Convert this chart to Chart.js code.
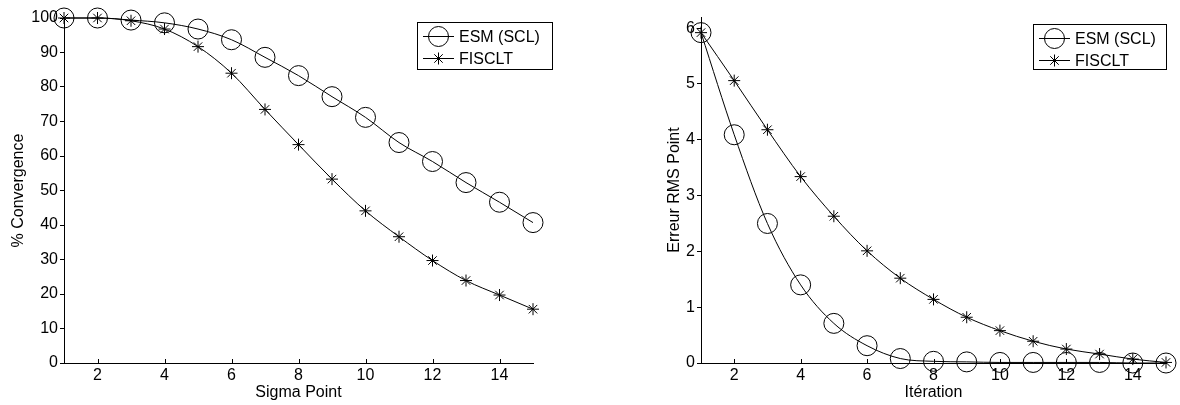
<!DOCTYPE html>
<html>
<head>
<meta charset="utf-8">
<script src="https://cdn.jsdelivr.net/npm/chart.js@4.4.0/dist/chart.umd.min.js"></script>
<style>
  html, body { margin: 0; padding: 0; background: #fff; }
  body { width: 1180px; height: 405px; position: relative; overflow: hidden; }
  canvas { position: absolute; top: 0; }
</style>
</head>
<body>
<canvas id="c1" width="590" height="405" style="left:0px"></canvas>
<canvas id="c2" width="543" height="405" style="left:637px"></canvas>
<script>
// ---------- DATA ----------
const sigmaPoints = [1, 2, 3, 4, 5, 6, 7, 8, 9, 10, 11, 12, 13, 14, 15];
const esmConvergence    = [100, 100, 99.4, 98.6, 96.8, 93.7, 88.6, 83.3, 77.2, 71.2, 63.9, 58.4, 52.3, 46.6, 40.7];
const fiscltConvergence = [100, 100, 99.2, 96.8, 91.7, 84.0, 73.5, 63.3, 53.3, 44.1, 36.6, 29.7, 23.9, 19.7, 15.6];

const iterations = [1, 2, 3, 4, 5, 6, 7, 8, 9, 10, 11, 12, 13, 14, 15];
const esmRms    = [5.92, 4.09, 2.50, 1.40, 0.71, 0.31, 0.08, 0.03, 0.02, 0.01, 0.01, 0.01, 0.01, 0.0, 0.0];
const fiscltRms = [5.92, 5.06, 4.18, 3.34, 2.63, 2.01, 1.52, 1.14, 0.82, 0.58, 0.39, 0.25, 0.16, 0.07, 0.01];

const xTickValues = [2, 4, 6, 8, 10, 12, 14];
const seriesNames = ['ESM (SCL)', 'FISCLT'];
const leftAxisTitles = { x: 'Sigma Point', y: '% Convergence' };
const rightAxisTitles = { x: 'Itération', y: 'Erreur RMS Point' };

// ---------- HELPERS ----------
const FONT = '"Liberation Sans", Arial, Helvetica, sans-serif';
const pts = (xs, ys) => xs.map((x, i) => ({ x: x, y: ys[i] }));

function drawMarker(ctx, style, x, y) {
  ctx.save();
  ctx.strokeStyle = '#000';
  ctx.lineWidth = 1;
  ctx.beginPath();
  if (style === 'circle') {
    ctx.arc(x, y, 10, 0, Math.PI * 2);
  } else {
    const r = 6;
    for (let k = 0; k < 4; k++) {
      const a = k * Math.PI / 4;
      ctx.moveTo(x - r * Math.cos(a), y - r * Math.sin(a));
      ctx.lineTo(x + r * Math.cos(a), y + r * Math.sin(a));
    }
  }
  ctx.stroke();
  ctx.restore();
}

const boxLegend = {
  id: 'boxLegend',
  afterDraw(chart, args, opts) {
    const ctx = chart.ctx;
    const ca = chart.chartArea;
    const w = opts.w, h = opts.h;
    const bx = ca.right + opts.dx - w;
    const by = ca.top + opts.dy;
    ctx.save();
    ctx.fillStyle = '#fff';
    ctx.fillRect(bx, by, w, h);
    ctx.strokeStyle = '#000';
    ctx.lineWidth = 1;
    ctx.strokeRect(Math.round(bx) + 0.5, Math.round(by) + 0.5, w, h);
    const styles = ['circle', 'star'];
    const rows = [by + 14.5, by + 36.5];
    ctx.font = '16px ' + FONT;
    ctx.fillStyle = '#000';
    ctx.textBaseline = 'middle';
    ctx.textAlign = 'left';
    chart.data.datasets.forEach((ds, i) => {
      const y = rows[i];
      ctx.beginPath();
      ctx.moveTo(bx + 6, y);
      ctx.lineTo(bx + 37, y);
      ctx.stroke();
      drawMarker(ctx, styles[i], bx + 21.5, y);
      ctx.fillText(ds.label, bx + 42, y + 1);
    });
    ctx.restore();
  }
};

const insideXTicks = {
  id: 'insideXTicks',
  afterDraw(chart) {
    const ctx = chart.ctx;
    const xs = chart.scales.x;
    const bottom = chart.chartArea.bottom;
    ctx.save();
    ctx.strokeStyle = '#000';
    ctx.lineWidth = 1;
    ctx.beginPath();
    xs.ticks.forEach(t => {
      const px = Math.round(xs.getPixelForValue(t.value)) + 0.5;
      ctx.moveTo(px, bottom);
      ctx.lineTo(px, bottom - 4);
    });
    ctx.stroke();
    ctx.restore();
  }
};

function makeChart(id, xs, ys1, ys2, yMin, yMax, yStep, titles, pad, yTitlePad, legendOpts) {
  return new Chart(document.getElementById(id), {
    type: 'line',
    data: {
      datasets: [
        {
          label: seriesNames[0],
          data: pts(xs, ys1),
          borderColor: '#000', borderWidth: 1,
          pointStyle: 'circle', pointRadius: 10,
          pointBorderColor: '#000', pointBackgroundColor: 'rgba(0,0,0,0)', pointBorderWidth: 1,
          cubicInterpolationMode: 'monotone',
          clip: false
        },
        {
          label: seriesNames[1],
          data: pts(xs, ys2),
          borderColor: '#000', borderWidth: 1,
          pointStyle: 'star', pointRadius: 6,
          pointBorderColor: '#000', pointBackgroundColor: 'rgba(0,0,0,0)', pointBorderWidth: 1,
          cubicInterpolationMode: 'monotone',
          clip: false
        }
      ]
    },
    options: {
      responsive: false,
      animation: false,
      devicePixelRatio: 1,
      events: [],
      layout: { padding: pad },
      plugins: {
        legend: { display: false },
        tooltip: { enabled: false },
        boxLegend: legendOpts
      },
      scales: {
        x: {
          type: 'linear',
          min: xs[0], max: xs[xs.length - 1],
          afterFit: s => { s.height = 42; },
          afterBuildTicks: s => { s.ticks = xTickValues.map(v => ({ value: v })); },
          grid: { display: false, drawTicks: false },
          border: { display: true, color: '#000', width: 1 },
          ticks: { color: '#000', font: { family: FONT, size: 16 }, padding: 3, maxRotation: 0, autoSkip: false },
          title: { display: true, text: titles.x, color: '#000', font: { family: FONT, size: 16 }, padding: { top: 0, bottom: 3 } }
        },
        y: {
          type: 'linear',
          min: yMin, max: yMax,
          afterFit: s => { s.width = 64; },
          ticks: { stepSize: yStep, includeBounds: false, color: '#000', font: { family: FONT, size: 16 }, padding: 2 },
          grid: { display: true, drawOnChartArea: false, drawTicks: true, tickLength: 4, color: '#000' },
          border: { display: true, color: '#000', width: 1 },
          title: { display: true, text: titles.y, color: '#000', font: { family: FONT, size: 16 }, padding: { top: yTitlePad, bottom: 0 } }
        }
      }
    },
    plugins: [insideXTicks, boxLegend]
  });
}

makeChart('c1', sigmaPoints, esmConvergence, fiscltConvergence, 0, 100, 10,
  leftAxisTitles, { top: 18, right: 57, left: 0, bottom: 0 }, 9,
  { dx: 19, dy: 4, w: 135, h: 47 });

makeChart('c2', iterations, esmRms, fiscltRms, 0, 6.2, 1,
  rightAxisTitles, { top: 17, right: 14, left: 0, bottom: 0 }, 28,
  { dx: 0, dy: 7, w: 133, h: 45 });
</script>
</body>
</html>
